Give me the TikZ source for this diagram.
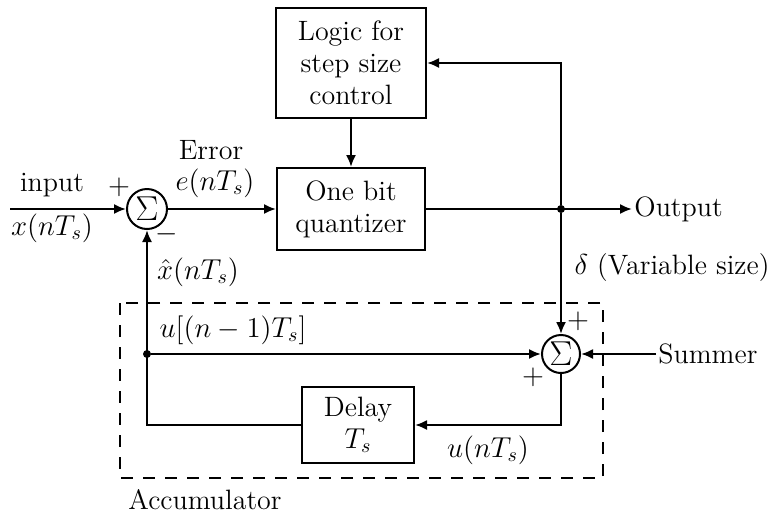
\documentclass[tikz,border=0pt]{standalone}
\usetikzlibrary{arrows.meta}
\tikzset{
  blockbox/.style={draw, line width=1pt, align=center, inner sep=2pt},
  sumnode/.style={draw, circle, line width=1pt, minimum size=20pt, inner sep=0pt,
    font=\fontsize{19}{19}\selectfont},
  link/.style={line width=1pt},
  junction/.style={circle, fill, inner sep=0pt, minimum size=4pt},
}
\begin{document}
\begin{tikzpicture}[x=0.5pt, y=-0.5pt, font=\fontsize{14}{16}\selectfont,
  >={Latex[length=6pt,width=5pt]}]
\useasboundingbox (0,0) rectangle (769,520);
\node[blockbox, minimum width=75pt, minimum height=55pt] (logic) at (351,63) {Logic for\\step size\\control};
\node[blockbox, minimum width=74pt, minimum height=41pt] (quant) at (351,209) {One bit\\quantizer};
\node[blockbox, minimum width=56pt, minimum height=38pt] (delay) at (358,425) {Delay\\$T_s$};
\node[sumnode] (sum1) at (147,209) {$\Sigma$};
\node[sumnode, minimum size=19pt] (sum2) at (561,354) {$\Sigma$};
\coordinate (in) at (10,209);
\node[anchor=west, inner sep=1pt] (out) at (632,209) {Output};
\node[anchor=west, inner sep=1pt] (summer) at (656,354) {Summer};
\node[junction] (fork) at (561,209) {};
\node[junction] (tap) at (147,354) {};
\draw[link,->] (in) -- (sum1);
\draw[link,->] (sum1) -- (quant);
\draw[link,->] (logic) -- (quant);
\draw[link,->] (quant) -- (out);
\draw[link,->] (fork) |- (logic);
\draw[link,->] (fork) -- (sum2);
\draw[link,->] (summer) -- (sum2);
\draw[link,->] (sum2) |- (delay);
\draw[link,->] (delay) -| (sum1);
\draw[link,->] (tap) -- (sum2);
\draw[line width=1.4pt, dash pattern=on 6pt off 5pt] (120,303) rectangle (603,478);
\node (inlbl) at (52,185) {input};
\node (xlbl) at (52,228) {$x(nT_s)$};
\node (plus1) at (119,187) {$+$};
\node[inner sep=0pt] (minus1) at (167,234) {$-$};
\node (errlbl) at (211,150) {Error};
\node (elbl) at (215,183) {$e(nT_s)$};
\node[inner sep=1pt] (xhatlbl) at (198,272) {$\hat{x}(nT_s)$};
\node (ulbl) at (233,330) {$u[(n-1)T_s]$};
\node (unlbl) at (488,450) {$u(nT_s)$};
\node (plus2) at (578,321) {$+$};
\node (plus3) at (533,377) {$+$};
\node (deltalbl) at (672,268) {$\delta$ (Variable size)};
\node (acclbl) at (205,500) {Accumulator};
\end{tikzpicture}
\end{document}
